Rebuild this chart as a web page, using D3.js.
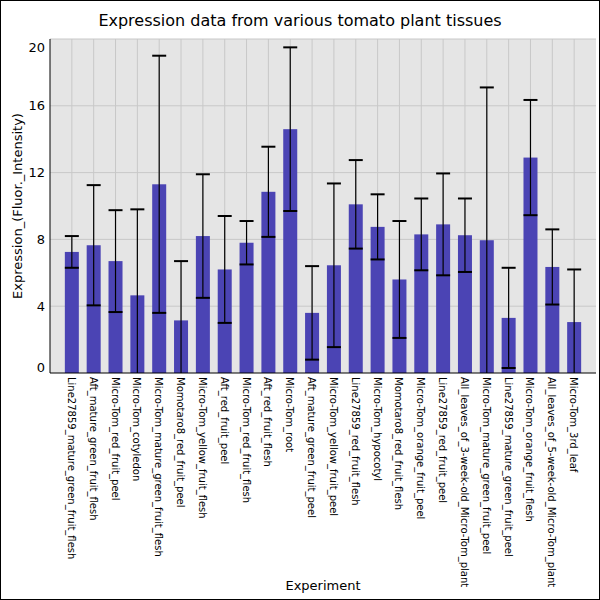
<!DOCTYPE html>
<html><head><meta charset="utf-8">
<script src="https://cdn.jsdelivr.net/npm/d3@7"></script>
<style>body{margin:0}svg{font-family:"DejaVu Sans",sans-serif}</style>
</head><body>
<svg id="c" width="600" height="600"></svg>
<script>
const categories = ["Line27859_mature_green_fruit_flesh","Aft_mature_green_fruit_flesh","Micro-Tom_red_fruit_peel","Micro-Tom_cotyledon","Micro-Tom_mature_green_fruit_flesh","Momotaro8_red_fruit_peel","Micro-Tom_yellow_fruit_flesh","Aft_red_fruit_peel","Micro-Tom_red_fruit_flesh","Aft_red_fruit_flesh","Micro-Tom_root","Aft_mature_green_fruit_peel","Micro-Tom_yellow_fruit_peel","Line27859_red_fruit_flesh","Micro-Tom_hypocotyl","Momotaro8_red_fruit_flesh","Micro-Tom_orange_fruit_peel","Line27859_red_fruit_peel","All_leaves_of_3-week-old_Micro-Tom_plant","Micro-Tom_mature_green_fruit_peel","Line27859_mature_green_fruit_peel","Micro-Tom_orange_fruit_flesh","All_leaves_of_5-week-old_Micro-Tom_plant","Micro-Tom_3rd_leaf"];
const means = [7.25,7.65,6.7,4.65,11.3,3.15,8.2,6.2,7.8,10.85,14.6,3.6,6.45,10.1,8.75,5.6,8.3,8.9,8.25,7.95,3.3,12.9,6.35,3.05];
const errs  = [0.95,3.6,3.05,5.15,7.7,3.55,3.7,3.2,1.3,2.7,4.9,2.8,4.9,2.65,1.95,3.5,2.15,3.05,2.2,9.15,3.0,3.45,2.25,3.15];
const yTicks = [0,4,8,12,16,20];

const svg = d3.select("#c");
const m = {l:50, r:596, t:39, b:373};
svg.append("rect").attr("x",0.5).attr("y",0.5).attr("width",599).attr("height",599).attr("fill","#fff").attr("stroke","#000");
const x = d3.scalePoint().domain(categories).range([m.l,m.r]).padding(1);
const y = d3.scaleLinear().domain([0,20]).range([m.b,m.t]);

svg.append("rect").attr("x",m.l).attr("y",m.t).attr("width",m.r-m.l).attr("height",m.b-m.t).attr("fill","#e5e5e5");
svg.selectAll(".gy").data(yTicks.slice(1,-1)).join("line").attr("x1",m.l).attr("x2",m.r)
  .attr("y1",d=>y(d)).attr("y2",d=>y(d)).attr("stroke","#c8c8c8");
svg.selectAll(".gx").data(categories).join("line").attr("y1",m.t).attr("y2",m.b)
  .attr("x1",d=>x(d)).attr("x2",d=>x(d)).attr("stroke","#c8c8c8");
svg.append("line").attr("x1",m.l).attr("x2",m.r).attr("y1",m.t).attr("y2",m.t).attr("stroke","#c8c8c8");

const bw = 14;
svg.selectAll(".bar").data(categories).join("rect")
  .attr("x",d=>x(d)-bw/2).attr("width",bw)
  .attr("y",(d,i)=>y(means[i])).attr("height",(d,i)=>y(0)-y(means[i]))
  .attr("fill","#4b44b4");

const eb = svg.append("g").attr("stroke","#000");
categories.forEach((c,i)=>{
  const hi = means[i]+errs[i], lo = means[i]-errs[i];
  const cx = x(c);
  eb.append("line").attr("x1",cx).attr("x2",cx).attr("y1",y(hi)).attr("y2",y(Math.max(lo,0))).attr("stroke-width",1.2);
  eb.append("line").attr("x1",cx-7).attr("x2",cx+7).attr("y1",y(hi)).attr("y2",y(hi)).attr("stroke-width",2);
  if (lo > 0) eb.append("line").attr("x1",cx-7).attr("x2",cx+7).attr("y1",y(lo)).attr("y2",y(lo)).attr("stroke-width",2);
});

// axes
svg.append("line").attr("x1",m.l).attr("x2",m.l).attr("y1",m.t).attr("y2",m.b).attr("stroke","#000");
svg.append("line").attr("x1",m.l).attr("x2",m.r).attr("y1",m.b).attr("y2",m.b).attr("stroke","#000");
svg.selectAll(".yl").data(yTicks).join("text")
  .attr("x",m.l-5).attr("y",d=>d===0?y(d)-6:d===20?y(d)+8:y(d))
  .attr("dy","0.35em").attr("text-anchor","end").attr("font-size",13).text(d=>d);
svg.selectAll(".xl").data(categories).join("text")
  .attr("transform",d=>`translate(${x(d)-4},${m.b+4}) rotate(90)`)
  .attr("font-size",10).text(d=>d);

svg.append("text").attr("x",300).attr("y",26).attr("text-anchor","middle").attr("font-size",16).text("Expression data from various tomato plant tissues");
svg.append("text").attr("x",323).attr("y",590).attr("text-anchor","middle").attr("font-size",13).text("Experiment");
svg.append("text").attr("transform",`translate(22,${(m.t+m.b)/2}) rotate(-90)`).attr("text-anchor","middle").attr("font-size",13).text("Expression_(Fluor._Intensity)");
</script>
</body></html>
